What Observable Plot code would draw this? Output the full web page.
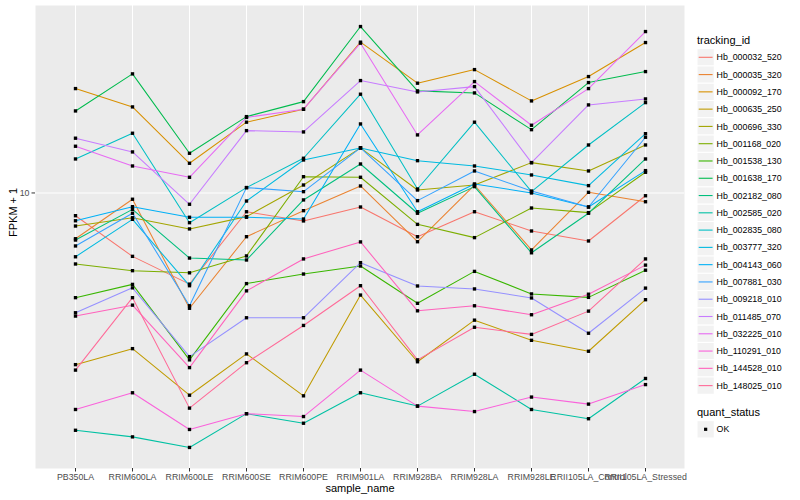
<!DOCTYPE html>
<html>
<head>
<meta charset="utf-8">
<script src="https://cdn.jsdelivr.net/npm/d3@7"></script>
<script src="https://cdn.jsdelivr.net/npm/@observablehq/plot@0.6"></script>
<style>
  html, body { margin: 0; padding: 0; background: #ffffff; }
  #chart { width: 800px; height: 500px; }
</style>
</head>
<body>
<div id="chart"></div>
<script>
// ---- data ----
const samples = ["PB350LA", "RRIM600LA", "RRIM600LE", "RRIM600SE", "RRIM600PE", "RRIM901LA",
  "RRIM928BA", "RRIM928LA", "RRIM928LE", "RRII105LA_Control", "RRII105LA_Stressed"];

const trackingIds = ["Hb_000032_520", "Hb_000035_320", "Hb_000092_170", "Hb_000635_250", "Hb_000696_330",
  "Hb_001168_020", "Hb_001538_130", "Hb_001638_170", "Hb_002182_080", "Hb_002585_020",
  "Hb_002835_080", "Hb_003777_320", "Hb_004143_060", "Hb_007881_030", "Hb_009218_010",
  "Hb_011485_070", "Hb_032225_010", "Hb_110291_010", "Hb_144528_010", "Hb_148025_010"];

// FPKM + 1 per sample, in sample order
const hb_000032_520 = [8.40, 6.15, 4.97, 8.66, 8.07, 8.98, 7.15, 8.66, 7.47, 6.92, 9.79];
const hb_000035_320 = [7.04, 9.53, 4.13, 7.15, 8.73, 10.55, 6.88, 10.63, 6.46, 10.05, 9.35];
const hb_000092_170 = [22.27, 19.35, 12.56, 17.21, 19.01, 31.79, 23.21, 25.76, 20.26, 24.42, 31.70];
const hb_000635_250 = [2.68, 3.03, 2.12, 2.91, 2.11, 4.57, 2.74, 3.77, 3.23, 2.97, 4.41];
const hb_000696_330 = [7.76, 8.27, 7.59, 8.34, 10.63, 14.13, 10.23, 10.63, 12.62, 11.84, 14.45];
const hb_001168_020 = [5.80, 5.51, 5.42, 6.17, 11.33, 11.28, 7.86, 7.10, 8.91, 8.60, 11.72];
const hb_001538_130 = [4.48, 4.96, 2.78, 4.99, 5.37, 5.71, 4.29, 5.48, 4.61, 4.49, 5.53];
const hb_001638_170 = [18.76, 24.93, 13.56, 17.96, 20.15, 35.84, 21.88, 21.54, 16.25, 23.32, 25.37];
const hb_002182_080 = [6.97, 8.82, 6.07, 5.98, 9.48, 12.49, 8.56, 10.50, 6.32, 8.56, 12.98];
const hb_002585_020 = [1.62, 1.54, 1.42, 1.84, 1.71, 2.16, 1.95, 2.49, 1.90, 1.77, 2.41];
const hb_002835_080 = [12.98, 15.81, 7.96, 10.42, 13.05, 21.33, 10.31, 17.21, 10.10, 14.45, 20.00];
const hb_003777_320 = [6.13, 8.17, 4.91, 9.40, 12.88, 14.13, 12.81, 12.30, 11.48, 10.58, 15.76];
const hb_004143_060 = [8.08, 9.00, 8.30, 8.30, 8.19, 16.98, 8.66, 10.72, 10.00, 8.98, 11.87];
const hb_007881_030 = [6.66, 8.56, 4.21, 10.42, 10.10, 14.13, 9.43, 11.84, 10.15, 8.98, 15.33];
const hb_009218_010 = [3.99, 4.83, 2.85, 3.84, 3.84, 5.86, 4.90, 4.79, 4.47, 3.41, 4.82];
const hb_011485_070 = [15.22, 13.70, 9.17, 16.13, 15.97, 23.68, 21.71, 22.61, 12.62, 19.65, 20.57];
const hb_032225_010 = [14.31, 12.30, 11.28, 17.85, 19.01, 31.55, 15.61, 23.50, 16.81, 22.27, 34.49];
const hb_110291_010 = [1.90, 2.16, 1.63, 1.84, 1.80, 2.57, 1.95, 1.87, 2.09, 1.98, 2.30];
const hb_144528_010 = [3.89, 4.23, 2.62, 4.72, 6.03, 6.87, 4.05, 4.21, 3.93, 4.60, 5.75];
const hb_148025_010 = [2.57, 4.48, 1.92, 2.72, 3.62, 4.91, 2.78, 3.57, 3.38, 4.04, 6.03];

const quantStatus = ["OK"];

// ---- styling ----
const palette = ["#F8766D", "#EA8331", "#D89000", "#C09B00", "#A3A500", "#7CAE00", "#39B600", "#00BB4E",
  "#00BF7D", "#00C1A3", "#00BFC4", "#00BAE0", "#00B0F6", "#35A2FF", "#9590FF", "#C77CFF",
  "#E76BF3", "#FA62DB", "#FF62BC", "#FF6A98"];
const FONT = "'Liberation Sans', Arial, Helvetica, sans-serif";

// ---- build table ----
const seriesValues = [hb_000032_520, hb_000035_320, hb_000092_170, hb_000635_250, hb_000696_330,
  hb_001168_020, hb_001538_130, hb_001638_170, hb_002182_080, hb_002585_020,
  hb_002835_080, hb_003777_320, hb_004143_060, hb_007881_030, hb_009218_010,
  hb_011485_070, hb_032225_010, hb_110291_010, hb_144528_010, hb_148025_010];

const rows = [];
trackingIds.forEach((id, i) => {
  seriesValues[i].forEach((v, j) => {
    rows.push({tracking_id: id, sample_name: samples[j], fpkm: v, quant_status: quantStatus[0]});
  });
});

// ggplot-like 5% expansion of the log range
const [lo, hi] = d3.extent(rows, d => d.fpkm);
const l0 = Math.log10(lo), l1 = Math.log10(hi), pad = (l1 - l0) * 0.05;
const yDomain = [Math.pow(10, l0 - pad), Math.pow(10, l1 + pad)];

const plot = Plot.plot({
  width: 800,
  height: 500,
  marginLeft: 35,
  marginRight: 116,
  marginTop: 5,
  marginBottom: 32,
  style: {fontFamily: FONT, fontSize: "8.8px", background: "#ffffff", overflow: "visible"},
  x: {type: "point", domain: samples, padding: 0.6, label: null},
  y: {type: "log", domain: yDomain, label: null},
  color: {domain: trackingIds, range: palette},
  marks: [
    Plot.frame({fill: "#EBEBEB", stroke: "none"}),
    Plot.gridX({stroke: "#ffffff", strokeOpacity: 1, strokeWidth: 1.07}),
    Plot.gridY([10], {stroke: "#ffffff", strokeOpacity: 1, strokeWidth: 1.07}),
    Plot.line(rows, {x: "sample_name", y: "fpkm", z: "tracking_id", stroke: "tracking_id", strokeWidth: 1.05}),
    Plot.dot(rows, {x: "sample_name", y: "fpkm", symbol: "square", r: 1.9, fill: "#000000", stroke: "none"}),
    Plot.axisX({tickSize: 3.5, tickPadding: 1.5, stroke: "#333333", fill: "#4D4D4D", fontSize: 8.8, label: null}),
    Plot.axisY([10], {tickSize: 3.5, tickPadding: 2.5, tickFormat: d => String(d), stroke: "#333333", fill: "#4D4D4D", fontSize: 8.8, label: null}),
    Plot.text(["FPKM + 1"], {text: d => d, frameAnchor: "left", dx: -22, rotate: -90, fontSize: 11, fill: "#000000"}),
    Plot.text(["sample_name"], {text: d => d, frameAnchor: "bottom", dy: 23.5, fontSize: 11, fill: "#000000"})
  ]
});

// ---- ggplot-style legends on the right ----
const colorScale = plot.scale("color");
const svg = d3.select(plot);
const lg = svg.append("g").attr("font-family", FONT).attr("text-anchor", "start");
const keyX = 697, keySize = 17.28, firstKey = 57.3;

lg.append("text").attr("x", keyX).attr("y", 44).attr("font-size", 11).attr("fill", "#000").text("tracking_id");
trackingIds.forEach((id, i) => {
  const cy = firstKey + i * keySize;
  lg.append("rect").attr("x", keyX).attr("y", cy - keySize / 2).attr("width", keySize).attr("height", keySize)
    .attr("fill", "#F2F2F2").attr("stroke", "#ffffff").attr("stroke-width", 1);
  lg.append("line").attr("x1", keyX + 1.7).attr("x2", keyX + keySize - 1.7).attr("y1", cy).attr("y2", cy)
    .attr("stroke", colorScale.apply(id)).attr("stroke-width", 1.1);
  lg.append("text").attr("x", keyX + keySize + 2.3).attr("y", cy).attr("dy", "0.35em")
    .attr("font-size", 8.8).attr("fill", "#000").text(id);
});

const qTitleY = 416.3, qKey = 429.3;
lg.append("text").attr("x", keyX).attr("y", qTitleY).attr("font-size", 11).attr("fill", "#000").text("quant_status");
quantStatus.forEach((s, i) => {
  const cy = qKey + i * keySize;
  lg.append("rect").attr("x", keyX).attr("y", cy - keySize / 2).attr("width", keySize).attr("height", keySize)
    .attr("fill", "#F2F2F2").attr("stroke", "#ffffff").attr("stroke-width", 1);
  lg.append("rect").attr("x", keyX + keySize / 2 - 1.6).attr("y", cy - 1.6).attr("width", 3.2).attr("height", 3.2)
    .attr("fill", "#000");
  lg.append("text").attr("x", keyX + keySize + 2.3).attr("y", cy).attr("dy", "0.35em")
    .attr("font-size", 8.8).attr("fill", "#000").text(s);
});

document.getElementById("chart").appendChild(plot);
</script>
</body>
</html>
